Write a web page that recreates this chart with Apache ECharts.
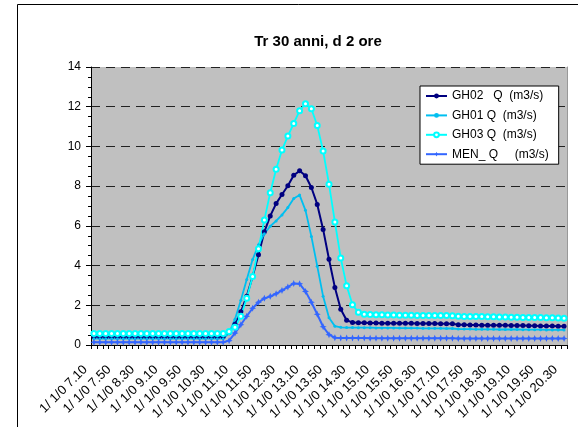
<!DOCTYPE html>
<html>
<head>
<meta charset="utf-8">
<script src="https://cdn.jsdelivr.net/npm/echarts@6/dist/echarts.min.js"></script>
<style>html,body{margin:0;padding:0;background:#fff;}#c{width:578px;height:427px;}</style>
</head>
<body>
<div id="c"></div>
<script>
var categories = [
"1/ 1/0 7.10","1/ 1/0 7.20","1/ 1/0 7.30","1/ 1/0 7.40","1/ 1/0 7.50","1/ 1/0 8.00","1/ 1/0 8.10","1/ 1/0 8.20","1/ 1/0 8.30","1/ 1/0 8.40",
"1/ 1/0 8.50","1/ 1/0 9.00","1/ 1/0 9.10","1/ 1/0 9.20","1/ 1/0 9.30","1/ 1/0 9.40","1/ 1/0 9.50","1/ 1/0 10.00","1/ 1/0 10.10","1/ 1/0 10.20",
"1/ 1/0 10.30","1/ 1/0 10.40","1/ 1/0 10.50","1/ 1/0 11.00","1/ 1/0 11.10","1/ 1/0 11.20","1/ 1/0 11.30","1/ 1/0 11.40","1/ 1/0 11.50","1/ 1/0 12.00",
"1/ 1/0 12.10","1/ 1/0 12.20","1/ 1/0 12.30","1/ 1/0 12.40","1/ 1/0 12.50","1/ 1/0 13.00","1/ 1/0 13.10","1/ 1/0 13.20","1/ 1/0 13.30","1/ 1/0 13.40",
"1/ 1/0 13.50","1/ 1/0 14.00","1/ 1/0 14.10","1/ 1/0 14.20","1/ 1/0 14.30","1/ 1/0 14.40","1/ 1/0 14.50","1/ 1/0 15.00","1/ 1/0 15.10","1/ 1/0 15.20",
"1/ 1/0 15.30","1/ 1/0 15.40","1/ 1/0 15.50","1/ 1/0 16.00","1/ 1/0 16.10","1/ 1/0 16.20","1/ 1/0 16.30","1/ 1/0 16.40","1/ 1/0 16.50","1/ 1/0 17.00",
"1/ 1/0 17.10","1/ 1/0 17.20","1/ 1/0 17.30","1/ 1/0 17.40","1/ 1/0 17.50","1/ 1/0 18.00","1/ 1/0 18.10","1/ 1/0 18.20","1/ 1/0 18.30","1/ 1/0 18.40",
"1/ 1/0 18.50","1/ 1/0 19.00","1/ 1/0 19.10","1/ 1/0 19.20","1/ 1/0 19.30","1/ 1/0 19.40","1/ 1/0 19.50","1/ 1/0 20.00","1/ 1/0 20.10","1/ 1/0 20.20",
"1/ 1/0 20.30"
];

var gh02 = [
0.42,0.42,0.42,0.42,0.42,0.42,0.42,0.42,0.42,0.42,
0.42,0.42,0.42,0.42,0.42,0.42,0.42,0.42,0.42,0.42,
0.42,0.42,0.42,0.62,1.05,1.67,2.45,3.45,4.55,5.70,
6.50,7.12,7.58,8.02,8.55,8.77,8.52,7.93,7.08,5.82,
4.32,2.90,1.80,1.25,1.13,1.12,1.12,1.11,1.11,1.10,
1.10,1.10,1.09,1.09,1.09,1.08,1.08,1.08,1.08,1.07,
1.07,1.07,1.02,1.02,1.01,1.01,1.00,1.00,1.00,0.99,
0.99,0.98,0.98,0.98,0.97,0.97,0.96,0.96,0.96,0.95,
0.95
];
var gh01 = [
0.32,0.32,0.32,0.32,0.32,0.32,0.32,0.32,0.32,0.32,
0.32,0.32,0.32,0.32,0.32,0.32,0.32,0.32,0.32,0.32,
0.32,0.32,0.32,0.60,1.30,2.25,3.30,4.30,5.05,5.60,
5.98,6.25,6.55,6.92,7.38,7.55,6.78,5.47,3.97,2.45,
1.37,0.95,0.89,0.88,0.88,0.87,0.87,0.87,0.86,0.86,
0.86,0.86,0.85,0.85,0.85,0.85,0.84,0.84,0.84,0.84,
0.83,0.83,0.80,0.80,0.80,0.79,0.79,0.79,0.79,0.78,
0.78,0.78,0.78,0.77,0.77,0.77,0.77,0.76,0.76,0.76,
0.76
];
var gh03 = [
0.58,0.58,0.58,0.58,0.58,0.58,0.58,0.58,0.58,0.58,
0.58,0.58,0.58,0.58,0.58,0.58,0.58,0.58,0.58,0.58,
0.58,0.58,0.58,0.68,0.90,1.45,2.35,3.45,4.85,6.30,
7.67,8.85,9.82,10.52,11.16,11.80,12.15,11.90,11.05,9.77,
8.10,6.20,4.38,2.98,2.03,1.65,1.55,1.53,1.52,1.52,
1.51,1.51,1.50,1.50,1.50,1.49,1.49,1.49,1.48,1.48,
1.48,1.47,1.45,1.44,1.44,1.43,1.43,1.42,1.42,1.41,
1.41,1.40,1.40,1.39,1.39,1.38,1.38,1.37,1.37,1.36,
1.35
];
var men = [
0.14,0.14,0.14,0.14,0.14,0.14,0.14,0.14,0.14,0.14,
0.14,0.14,0.14,0.14,0.14,0.14,0.14,0.14,0.14,0.14,
0.14,0.14,0.14,0.22,0.60,1.02,1.45,1.85,2.15,2.35,
2.45,2.58,2.75,2.92,3.10,3.08,2.70,2.15,1.55,0.92,
0.52,0.37,0.35,0.35,0.35,0.35,0.35,0.34,0.34,0.34,
0.34,0.34,0.34,0.34,0.34,0.34,0.34,0.34,0.34,0.34,
0.34,0.34,0.33,0.33,0.33,0.33,0.33,0.33,0.33,0.33,
0.33,0.33,0.33,0.33,0.33,0.33,0.33,0.33,0.33,0.33,
0.33
];
var yTicks = [0, 2, 4, 6, 8, 10, 12, 14];
var seriesNames = ["GH02   Q  (m3/s)", "GH01 Q  (m3/s)", "GH03 Q  (m3/s)", "MEN_ Q     (m3/s)"];

var FONT = "'Liberation Sans', Arial, sans-serif";
var chart = echarts.init(document.getElementById('c'), null, {renderer: 'canvas'});

function mkSeries(name, data, color, symbol, size, width) {
  return {
    name: name, type: 'line', data: data, symbol: symbol, symbolSize: size,
    showAllSymbol: true, animation: false,
    lineStyle: {color: color, width: width},
    itemStyle: {color: color},
    emphasis: {disabled: true}
  };
}

chart.setOption({
  animation: false,
  textStyle: {fontFamily: FONT},
  title: {
    text: 'Tr 30 anni, d 2 ore', left: 313, top: 29, textAlign: 'center',
    textStyle: {fontFamily: FONT, fontSize: 15, fontWeight: 'bold', color: '#000'}
  },
  graphic: [{
    type: 'rect', shape: {x: 17.5, y: 4.5, width: 700, height: 600},
    style: {fill: 'none', stroke: '#000', lineWidth: 1}, silent: true, z: 100
  }],
  legend: {
    orient: 'vertical', left: 420, top: 86,
    padding: [4, 10, 4, 5], itemGap: 7.4, itemWidth: 21, itemHeight: 6,
    backgroundColor: '#fff', borderColor: '#000', borderWidth: 1, borderRadius: 0,
    textStyle: {fontFamily: FONT, fontSize: 12, color: '#000', height: 12, lineHeight: 12},
    data: seriesNames
  },
  grid: {left: 91, top: 67, width: 476, height: 278, show: true, backgroundColor: '#C0C0C0', borderWidth: 0, containLabel: false},
  xAxis: {
    type: 'category', data: categories, boundaryGap: true,
    axisLine: {lineStyle: {color: '#000', width: 1}},
    axisTick: {show: true, interval: 0, length: 4, lineStyle: {color: '#000'}},
    axisLabel: {interval: 3, rotate: 45, fontSize: 13, color: '#000', fontFamily: FONT, margin: 14, padding: [0, 12, 0, 0]},
    splitLine: {show: false}
  },
  yAxis: [{
    type: 'value', min: yTicks[0], max: yTicks[yTicks.length - 1], interval: 2,
    axisLine: {show: true, lineStyle: {color: '#000', width: 1}},
    axisTick: {show: true, length: 5, lineStyle: {color: '#000'}},
    minorTick: {show: true, splitNumber: 4, length: 3, lineStyle: {color: '#000'}},
    axisLabel: {fontSize: 12, color: '#000', fontFamily: FONT, margin: 10},
    splitLine: {show: true, lineStyle: {color: '#222', type: [9, 6], width: 1}}
  }, {
    type: 'value', min: 0, max: 14, interval: 2, position: 'right',
    axisLine: {show: true, lineStyle: {color: '#999', width: 1}},
    axisTick: {show: false}, axisLabel: {show: false}, splitLine: {show: false}
  }],
  series: [
    mkSeries(seriesNames[0], gh02, '#000080', 'circle', 5, 2),
    mkSeries(seriesNames[1], gh01, '#00BFF0', 'circle', 3, 1.8),
    mkSeries(seriesNames[2], gh03, '#00FFFF', 'emptyCircle', 5, 1.8),
    mkSeries(seriesNames[3], men, '#3366FF', 'path://M0,-4L1.2,-1.2L4,0L1.2,1.2L0,4L-1.2,1.2L-4,0L-1.2,-1.2Z', 7, 2)
  ]
});
</script>
</body>
</html>
